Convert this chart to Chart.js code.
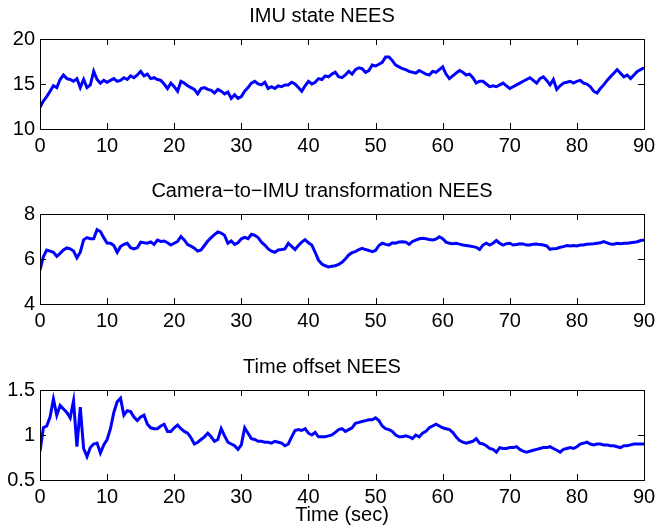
<!DOCTYPE html>
<html>
<head>
<meta charset="utf-8">
<title>NEES</title>
<script src="https://cdn.jsdelivr.net/npm/chart.js@4.4.0/dist/chart.umd.min.js"></script>
<style>
	body { margin: 0; background: #fff; }
	#wrap { position: relative; width: 668px; height: 529px; }
	canvas { position: absolute; left: 0; }
</style>
</head>
<body>
<div id="wrap">
	<canvas id="canvasImu" width="668" height="175" style="top:0px"></canvas>
	<canvas id="canvasCam" width="668" height="175" style="top:175px"></canvas>
	<canvas id="canvasOffset" width="668" height="178" style="top:351px"></canvas>
</div>
<script>
"use strict";

// sampled every 0.5 s, 0..90 s
var sampleStep = 0.5;
var xTicks = [0, 10, 20, 30, 40, 50, 60, 70, 80, 90];

var imuTicks = [10, 15, 20];
var camTicks = [4, 6, 8];
var offsetTicks = [0.5, 1, 1.5];

var imuNees = [
	12.4, 13.1, 13.6, 14.2, 14.8, 14.6, 15.5, 16.0, 15.6, 15.5, 15.3, 15.6, 14.6, 15.5, 14.6, 14.9, 16.4, 15.5, 15.1, 15.4,
	15.2, 15.4, 15.6, 15.3, 15.4, 15.7, 15.5, 15.9, 15.7, 16.0, 16.4, 15.9, 16.1, 15.6, 15.7, 15.5, 15.4, 15.0, 14.5, 15.1,
	14.7, 14.2, 15.3, 15.1, 14.8, 14.6, 14.4, 13.9, 14.5, 14.6, 14.4, 14.3, 14.0, 14.4, 14.2, 13.9, 14.1, 13.4, 13.8, 13.4,
	13.6, 14.2, 14.6, 15.1, 15.3, 15.0, 14.9, 15.2, 14.5, 14.7, 14.5, 14.8, 14.7, 14.9, 14.9, 15.2, 15.0, 14.6, 14.2, 14.8,
	15.3, 15.0, 15.2, 15.6, 15.5, 15.9, 15.8, 16.1, 16.3, 15.8, 15.7, 16.0, 16.4, 16.1, 16.6, 16.8, 16.7, 16.3, 16.5, 17.1,
	17.0, 17.2, 17.4, 18.0, 18.0, 17.6, 17.1, 16.9, 16.7, 16.6, 16.4, 16.3, 16.2, 16.5, 16.3, 16.1, 16.0, 16.4, 16.3, 16.6,
	16.9, 16.1, 15.6, 15.9, 16.2, 16.5, 16.3, 16.0, 16.1, 15.7, 15.1, 15.3, 15.3, 15.0, 14.7, 14.8, 14.7, 14.9, 15.1, 14.8,
	14.5, 14.7, 14.9, 15.1, 15.3, 15.5, 15.7, 15.4, 15.1, 15.6, 15.8, 15.4, 14.9, 15.5, 14.4, 14.8, 15.1, 15.2, 15.3, 15.1,
	15.3, 15.4, 15.1, 15.0, 14.7, 14.2, 14.0, 14.5, 14.9, 15.4, 15.8, 16.2, 16.6, 16.2, 15.8, 16.0, 15.6, 16.0, 16.4, 16.6,
	16.8
];

var camImuNees = [
	5.5, 6.1, 6.4, 6.35, 6.3, 6.12, 6.25, 6.4, 6.49, 6.45, 6.35, 6.05, 6.3, 6.85, 6.95, 6.9, 6.9, 7.3, 7.22, 6.95,
	6.71, 6.7, 6.6, 6.3, 6.55, 6.65, 6.7, 6.5, 6.45, 6.5, 6.75, 6.72, 6.7, 6.76, 6.65, 6.84, 6.78, 6.8, 6.72, 6.62,
	6.7, 6.78, 7.0, 6.85, 6.64, 6.57, 6.48, 6.35, 6.4, 6.6, 6.8, 6.95, 7.08, 7.2, 7.15, 7.05, 6.7, 6.8, 6.65, 6.72,
	6.9, 6.96, 6.9, 7.1, 7.05, 6.95, 6.75, 6.62, 6.45, 6.35, 6.3, 6.4, 6.42, 6.45, 6.7, 6.56, 6.42, 6.6, 6.75, 6.86,
	6.72, 6.62, 6.3, 5.95, 5.78, 5.7, 5.65, 5.68, 5.7, 5.76, 5.85, 6.0, 6.18, 6.28, 6.33, 6.42, 6.47, 6.42, 6.38, 6.33,
	6.38, 6.6, 6.7, 6.65, 6.62, 6.72, 6.7, 6.76, 6.77, 6.75, 6.65, 6.78, 6.84, 6.9, 6.92, 6.9, 6.87, 6.85, 6.88, 6.99,
	6.9, 6.75, 6.7, 6.68, 6.7, 6.66, 6.62, 6.6, 6.58, 6.55, 6.52, 6.42, 6.62, 6.7, 6.62, 6.7, 6.82, 6.7, 6.62, 6.68,
	6.7, 6.62, 6.64, 6.68, 6.67, 6.62, 6.62, 6.66, 6.67, 6.64, 6.62, 6.58, 6.43, 6.46, 6.47, 6.52, 6.55, 6.6, 6.58, 6.6,
	6.58, 6.62, 6.62, 6.66, 6.67, 6.68, 6.7, 6.72, 6.77, 6.72, 6.67, 6.66, 6.7, 6.68, 6.7, 6.7, 6.72, 6.74, 6.77, 6.82,
	6.84
];

var offsetNees = [
	0.82, 1.08, 1.1, 1.2, 1.4, 1.22, 1.33, 1.29, 1.25, 1.19, 1.38, 0.87, 1.31, 0.85, 0.76, 0.86, 0.9, 0.91, 0.8, 0.89,
	0.95, 1.07, 1.25, 1.37, 1.41, 1.22, 1.27, 1.26, 1.2, 1.16, 1.2, 1.22, 1.12, 1.08, 1.07, 1.07, 1.1, 1.12, 1.04, 1.04,
	1.08, 1.11, 1.07, 1.04, 1.02, 0.97, 0.9, 0.92, 0.95, 0.98, 1.02, 0.98, 0.93, 0.95, 1.07, 0.99, 0.92, 0.9, 0.88, 0.84,
	0.89, 1.08, 1.02, 0.96, 0.95, 0.93, 0.93, 0.92, 0.92, 0.91, 0.93, 0.92, 0.91, 0.88, 0.9, 0.98, 1.05, 1.06, 1.05, 1.07,
	1.02, 1.0, 1.03, 0.98, 0.98, 0.98, 0.99, 1.0, 1.03, 1.06, 1.07, 1.04, 1.06, 1.08, 1.13, 1.14, 1.15, 1.16, 1.17, 1.17,
	1.19, 1.16, 1.1, 1.07, 1.06, 1.04, 1.0, 0.98, 0.98, 0.99, 0.98, 0.96, 1.0, 0.98, 1.02, 1.04, 1.08, 1.1, 1.12, 1.1,
	1.08, 1.07, 1.06, 1.03, 0.98, 0.94, 0.92, 0.91, 0.92, 0.93, 0.96, 0.91, 0.9, 0.88, 0.85, 0.84, 0.81, 0.86, 0.85, 0.85,
	0.86, 0.86, 0.87, 0.84, 0.82, 0.81, 0.82, 0.83, 0.84, 0.85, 0.86, 0.86, 0.87, 0.85, 0.83, 0.81, 0.84, 0.85, 0.86, 0.85,
	0.87, 0.9, 0.91, 0.92, 0.9, 0.89, 0.9, 0.9, 0.89, 0.89, 0.88, 0.88, 0.87, 0.86, 0.88, 0.88, 0.89, 0.9, 0.9, 0.9,
	0.9
];

Chart.defaults.font.family = "'Liberation Sans', Arial, Helvetica, sans-serif";
Chart.defaults.color = '#000';

// MATLAB style box with inward ticks on all four sides
var matlabBox = {
	id: 'matlabBox',
	afterDraw: function (chart) {
		var ctx = chart.ctx;
		var a = chart.chartArea;
		var xs = chart.scales.x;
		var ys = chart.scales.y;
		var len = 6;
		ctx.save();
		ctx.strokeStyle = '#000';
		ctx.lineWidth = 1;
		ctx.beginPath();
		xs.ticks.forEach(function (t) {
			var px = Math.round(xs.getPixelForValue(t.value)) + 0.5;
			ctx.moveTo(px, a.bottom);
			ctx.lineTo(px, a.bottom - len);
			ctx.moveTo(px, a.top);
			ctx.lineTo(px, a.top + len);
		});
		ys.ticks.forEach(function (t) {
			var py = Math.round(ys.getPixelForValue(t.value)) + 0.5;
			ctx.moveTo(a.left, py);
			ctx.lineTo(a.left + len, py);
			ctx.moveTo(a.right, py);
			ctx.lineTo(a.right - len, py);
		});
		ctx.stroke();
		ctx.strokeRect(Math.round(a.left) + 0.5, Math.round(a.top) + 0.5,
			Math.round(a.right - a.left), Math.round(a.bottom - a.top));
		ctx.restore();
	}
};

function ToPoints(values) {
	var pts = [];
	$each(values, function (i, v) {
		pts.push({ x: i * sampleStep, y: v });
	});
	return pts;
}

function $each(arr, fn) {
	for (var i = 0; i < arr.length; i++) fn(i, arr[i]);
}

function BuildChart(canvasId, title, values, yTicks, xAxisHeight, xTitle) {
	const context = document.getElementById(canvasId);
	return new Chart(context, {
		type: 'line',
		data: {
			datasets: [{
				data: ToPoints(values),
				borderColor: '#0000ff',
				borderWidth: 3,
				pointRadius: 0,
				tension: 0,
				fill: false
			}]
		},
		options: {
			responsive: false,
			animation: false,
			events: [],
			layout: { padding: { left: 0, right: 24, top: 0, bottom: 0 } },
			plugins: {
				legend: { display: false },
				tooltip: { enabled: false },
				title: {
					display: true,
					text: title,
					font: { size: 20, weight: 'normal' },
					padding: { top: 4, bottom: 11 }
				}
			},
			scales: {
				x: {
					type: 'linear',
					min: 0,
					max: 90,
					afterBuildTicks: function (scale) {
						scale.ticks = xTicks.map(function (v) { return { value: v }; });
					},
					afterFit: function (scale) { scale.height = xAxisHeight; },
					grid: { display: false, drawTicks: false },
					border: { display: false },
					ticks: {
						autoSkip: false,
						maxRotation: 0,
						padding: 5,
						font: { size: 20 },
						callback: function (v) { return String(v); }
					},
					title: {
						display: !!xTitle,
						text: xTitle || '',
						font: { size: 20 },
						padding: { top: 0, bottom: 2 }
					}
				},
				y: {
					min: yTicks[0],
					max: yTicks[yTicks.length - 1],
					afterBuildTicks: function (scale) {
						scale.ticks = yTicks.map(function (v) { return { value: v }; });
					},
					afterFit: function (scale) { scale.width = 40; },
					grid: { display: false, drawTicks: false },
					border: { display: false },
					ticks: {
						padding: 5,
						font: { size: 20 },
						callback: function (v) { return String(v); }
					}
				}
			}
		},
		plugins: [matlabBox]
	});
}

BuildChart('canvasImu', 'IMU state NEES', imuNees, imuTicks, 46);
BuildChart('canvasCam', 'Camera\u2212to\u2212IMU transformation NEES', camImuNees, camTicks, 46);
BuildChart('canvasOffset', 'Time offset NEES', offsetNees, offsetTicks, 49, 'Time (sec)');
</script>
</body>
</html>
